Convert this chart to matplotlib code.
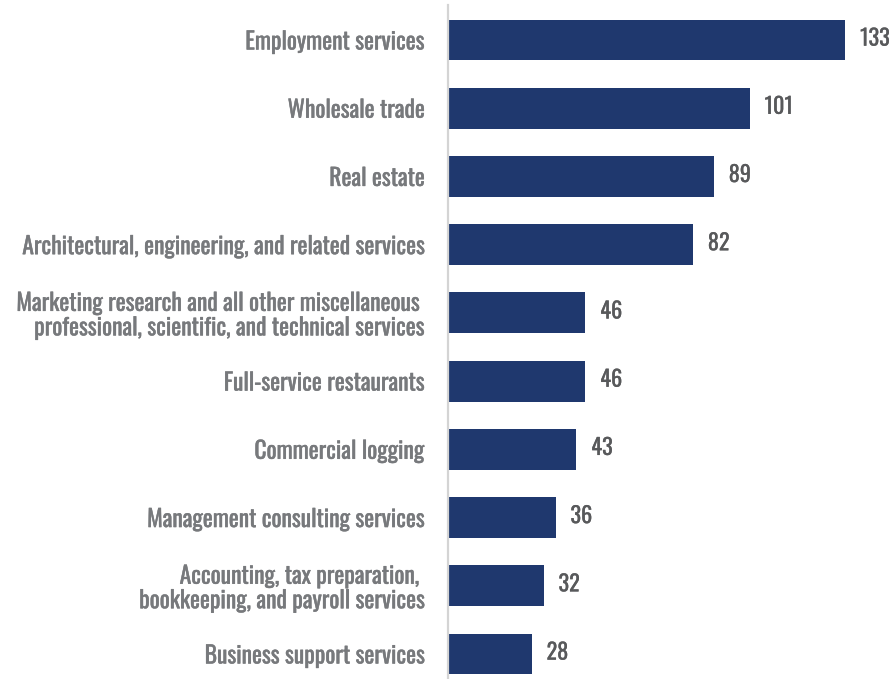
import matplotlib
matplotlib.use("Agg")
import matplotlib.pyplot as plt
import matplotlib.patheffects as pe

categories = [
    "Employment services",
    "Wholesale trade",
    "Real estate",
    "Architectural, engineering, and related services",
    "Marketing research and all other miscellaneous \nprofessional, scientific, and technical services",
    "Full-service restaurants",
    "Commercial logging",
    "Management consulting services",
    "Accounting, tax preparation, \nbookkeeping, and payroll services",
    "Business support services",
]
values = [133, 101, 89, 82, 46, 46, 43, 36, 32, 28]

BAR_COLOR = "#1f386e"
LABEL_COLOR = "#77797c"
VALUE_COLOR = "#58595b"
FONT = ["Oswald", "DejaVu Sans"]

fig = plt.figure(figsize=(8.9, 6.79), dpi=100)
ax = fig.add_axes([448 / 890, 0, 1 - 448 / 890, 1 - 5 / 679])

pos = list(range(len(categories)))
ax.barh(pos, values, height=0.6, color=BAR_COLOR)
ax.set_xlim(0, 148)
ax.set_ylim(len(categories) - 1 + 25 / 68.2, -35 / 68.2)

# value labels at the end of each bar
for p, v in zip(pos, values):
    ax.text(v + 5, p - 0.02, f"{v}", va="center", ha="left", fontsize=16,
            color=VALUE_COLOR, family=FONT,
            path_effects=[pe.withStroke(linewidth=0.15, foreground=VALUE_COLOR)])

ax.set_yticks(pos)
ax.set_yticklabels(categories, family=FONT, fontsize=17, color=LABEL_COLOR,
                   linespacing=1.08)
for lbl in ax.get_yticklabels():
    lbl.set_path_effects([pe.withStroke(linewidth=0.3, foreground=LABEL_COLOR)])
ax.tick_params(axis="y", length=0, pad=17)
ax.set_xticks([])

for s in ["top", "right", "bottom"]:
    ax.spines[s].set_visible(False)
ax.spines["left"].set_color("#d4d4d4")
ax.spines["left"].set_linewidth(1.6)

fig.savefig("out.png", dpi=100)
